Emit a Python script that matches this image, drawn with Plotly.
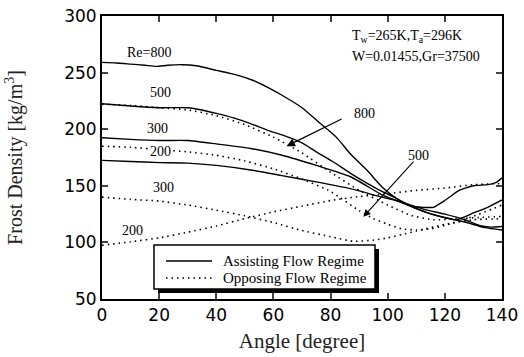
import plotly.graph_objects as go

# Assisting flow regime (solid)
x_a800 = [0, 5, 10, 15, 19, 23, 28, 33, 40, 47, 53, 58, 63, 70, 76, 82, 87, 93, 98, 103, 108, 112, 116, 120, 125, 130, 135, 138, 140]
y_a800 = [259, 258.5, 257.5, 256.5, 255.5, 256.5, 257, 256, 252, 248, 243, 237, 230, 219, 206, 193, 178, 163, 149, 139, 132, 131, 131, 137, 146, 150, 151, 153, 157]
x_a500 = [0, 10, 20, 30, 35, 40, 46, 52, 58, 63, 70, 75, 81, 87, 93, 98, 103, 108, 113, 118, 124, 130, 135, 140]
y_a500 = [222.5, 220.5, 219, 219, 217, 214, 210, 205, 199, 195, 188, 180, 171, 161, 152, 145, 139, 132, 127, 123, 120, 126, 131, 137.5]
x_a300 = [0, 10, 20, 30, 40, 52, 63, 75, 87, 98, 103, 108, 113, 120, 127, 134, 140]
y_a300 = [192.5, 191, 190, 190, 187, 183, 177, 168, 158, 142, 137, 132, 127, 122, 118, 113, 111]
x_a200 = [0, 10, 20, 30, 40, 52, 63, 75, 87, 98, 103, 108, 113, 120, 127, 132, 136, 140]
y_a200 = [172.5, 171.5, 170.5, 170, 168, 164, 159, 153.5, 147.5, 140, 137, 133, 129, 125, 120, 115, 113.5, 114]

# Opposing flow regime (dotted)
x_o800 = [0, 10, 20, 30, 40, 50, 60, 70, 80, 90, 100, 108, 116, 125, 132, 140]
y_o800 = [222, 221, 219, 217, 212, 204, 193, 179, 162, 146, 133, 124, 120, 121, 122, 123]
x_o500 = [0, 10, 20, 30, 40, 50, 60, 70, 80, 90, 95, 100, 105, 110, 115, 120, 130, 140]
y_o500 = [185, 184, 182, 180, 177, 172, 165, 156, 145, 128, 121, 116, 112, 111, 112, 115, 123, 133]
x_o300 = [0, 10, 20, 30, 40, 50, 60, 70, 80, 88, 95, 100, 105, 110, 120, 130, 140]
y_o300 = [140, 138, 136.5, 133, 128.5, 123.5, 117.5, 110.5, 105, 101, 102, 104, 107, 110, 116, 120, 121]
x_o200 = [0, 10, 20, 30, 40, 50, 60, 70, 80, 90, 100, 110, 120, 130, 140]
y_o200 = [97.5, 100.5, 104, 109, 114.5, 121, 127, 132, 137, 140.5, 143, 146, 148, 151, 152]

x_ticks = [0, 20, 40, 60, 80, 100, 120, 140]
y_ticks = [50, 100, 150, 200, 250, 300]

# labels: (text, x, y)
labels = [("Re=800", 16.5, 268), ("500", 20.3, 232.5), ("300", 19.3, 200.8), ("200", 20.3, 180.6),
          ("300", 21.4, 148.8), ("200", 10.5, 110.8), ("800", 92, 214), ("500", 110.6, 177)]
legend_names = ["Assisting Flow Regime", "Opposing Flow Regime"]

fig = go.Figure()
solid = dict(color="black", width=1.4)
dotted = dict(color="black", width=1.6, dash="1.5px,4px")
series = [(x_a800, y_a800, solid), (x_a500, y_a500, solid), (x_a300, y_a300, solid), (x_a200, y_a200, solid),
          (x_o800, y_o800, dotted), (x_o500, y_o500, dotted), (x_o300, y_o300, dotted), (x_o200, y_o200, dotted)]
for xs, ys, ln in series:
    fig.add_trace(go.Scatter(x=xs, y=ys, mode="lines", line=dict(shape="spline", smoothing=0.5, **ln),
                             showlegend=False, hoverinfo="skip"))

serif = "Liberation Serif, Times New Roman, serif"
for t, x, y in labels:
    fig.add_annotation(x=x, y=y, text=t, showarrow=False, font=dict(family=serif, size=14, color="black"),
                       bgcolor="white" if (t == "200" and y > 170) else "rgba(0,0,0,0)", borderpad=0)

# arrows
fig.add_annotation(x=64.6, y=185, ax=84.4, ay=209.7, xref="x", yref="y", axref="x", ayref="y",
                   text="", showarrow=True, arrowhead=2, arrowsize=1.3, arrowwidth=1.3, arrowcolor="black")
fig.add_annotation(x=91.5, y=122.6, ax=109.5, ay=172.6, xref="x", yref="y", axref="x", ayref="y",
                   text="", showarrow=True, arrowhead=2, arrowsize=1.3, arrowwidth=1.1, arrowcolor="black")

fig.add_annotation(x=0.62, y=0.965, xref="paper", yref="paper", xanchor="left", yanchor="top", align="left",
                   showarrow=False, font=dict(family=serif, size=14, color="black"),
                   text="T<sub>w</sub>=265K,T<sub>a</sub>=296K")
fig.add_annotation(x=0.62, y=0.89, xref="paper", yref="paper", xanchor="left", yanchor="top", align="left",
                   showarrow=False, font=dict(family=serif, size=14, color="black"),
                   text="W=0.01455,Gr=37500")

# legend box with drop shadow
fig.add_shape(type="rect", xref="paper", yref="paper", x0=0.14, x1=0.6925, y0=0.021, y1=0.177,
              fillcolor="black", line=dict(width=0), layer="above")
fig.add_shape(type="rect", xref="paper", yref="paper", x0=0.13, x1=0.6825, y0=0.0353, y1=0.1908,
              fillcolor="white", line=dict(color="black", width=1.5), layer="above")
fig.add_shape(type="line", xref="paper", yref="paper", x0=0.16, x1=0.275, y0=0.1343, y1=0.1343,
              line=dict(color="black", width=1.4), layer="above")
fig.add_shape(type="line", xref="paper", yref="paper", x0=0.16, x1=0.275, y0=0.0742, y1=0.0742,
              line=dict(color="black", width=1.6, dash="1.5px,4px"), layer="above")
for name, yy in zip(legend_names, [0.1343, 0.0742]):
    fig.add_annotation(x=0.298, y=yy, xref="paper", yref="paper", xanchor="left", yanchor="middle",
                       text=name, showarrow=False, font=dict(family=serif, size=15, color="black"))

fig.update_layout(
    width=524, height=357, margin=dict(l=102, r=22, t=16, b=58),
    paper_bgcolor="white", plot_bgcolor="white",
    font=dict(family="DejaVu Sans", color="black"),
    showlegend=False,
)
fig.update_xaxes(range=[0, 140], tickvals=x_ticks, ticks="inside", ticklen=6, tickwidth=1.5,
                 mirror="ticks", showline=True, linecolor="black", linewidth=2, showgrid=False,
                 zeroline=False, automargin=False, tickfont=dict(size=17, family="DejaVu Sans"),
                 title=dict(text="Angle [degree]", font=dict(family=serif, size=21, color="#222"), standoff=9))
fig.update_yaxes(range=[50, 300], tickvals=y_ticks, ticks="inside", ticklen=6, tickwidth=1.5,
                 mirror="ticks", showline=True, linecolor="black", linewidth=2, showgrid=False,
                 zeroline=False, automargin=False, tickfont=dict(size=17, family="DejaVu Sans"),
                 title=dict(text="Frost Density [kg/m<sup>3</sup>]", font=dict(family=serif, size=20, color="#222"), standoff=36))

fig.write_html("out.html")
